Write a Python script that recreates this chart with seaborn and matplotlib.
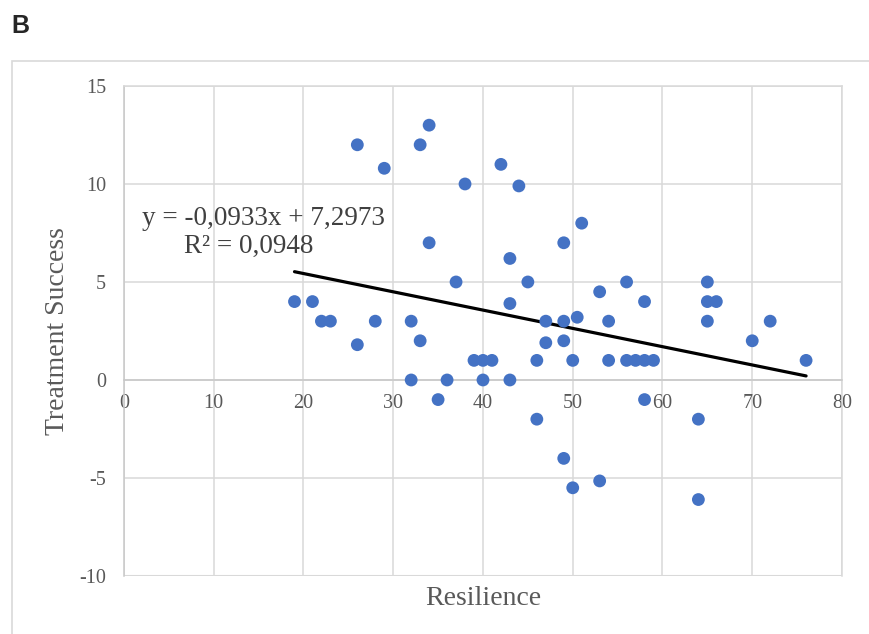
import pandas as pd
import numpy as np
import matplotlib.pyplot as plt
import matplotlib.patches as patches
import seaborn as sns

# --- data ---
resilience = [19, 21, 22, 23, 26, 26, 28, 29, 32, 32,
              33, 33, 34, 34, 35, 36, 37, 38, 39, 40,
              40, 41, 42, 43, 43, 43, 44, 45, 46, 46,
              47, 47, 49, 49, 49, 49, 50, 50, 50.5, 51,
              53, 53, 54, 54, 56, 56, 57, 58, 58, 58,
              59, 64, 64, 65, 65, 65, 66, 70, 72, 76]
treatment_success = [4, 4, 3, 3, 12, 1.8, 3, 10.8, 3, 0,
                     12, 2, 13, 7, -1, 0, 5, 10, 1, 1,
                     0, 1, 11, 6.2, 3.9, 0, 9.9, 5, 1, -2,
                     3, 1.9, 7, 3, 2, -4, 1, -5.5, 3.2, 8,
                     4.5, -5.15, 3, 1, 5, 1, 1, 4, 1, -1,
                     1, -2, -6.1, 5, 4, 3, 4, 2, 3, 1]
slope = -0.0933
intercept = 7.2973
r_squared = 0.0948
x_ticks = [0, 10, 20, 30, 40, 50, 60, 70, 80]
y_ticks = [-10, -5, 0, 5, 10, 15]

df = pd.DataFrame({'Resilience': resilience, 'Treatment Success': treatment_success})
x_fit = np.array([min(resilience), max(resilience)])
trend = pd.DataFrame({'x': x_fit, 'y': slope * x_fit + intercept})

sns.set_style('white')
plt.rcParams['font.family'] = ['Liberation Serif', 'DejaVu Serif']

fig = plt.figure(figsize=(8.7, 6.34), dpi=100)
ax = fig.add_axes([0.1425, 0.0915, 0.8253, 0.7729])

grid_col = '#d9d9d9'
text_col = '#595959'

sns.lineplot(data=trend, x='x', y='y', color='black', linewidth=2.3, ax=ax, zorder=3)
sns.scatterplot(data=df, x='Resilience', y='Treatment Success', color='#4472C4',
                s=85, edgecolor='none', ax=ax, zorder=4)

ax.set_xlim(0, 80)
ax.set_ylim(-10, 15)
ax.set_xticks(x_ticks)
ax.set_yticks(y_ticks)
ax.set_xticklabels([str(t) for t in x_ticks])
ax.set_yticklabels([str(t) for t in y_ticks])
ax.grid(True, color=grid_col, linewidth=1.1)
ax.set_axisbelow(True)

for side in ['top', 'right']:
    ax.spines[side].set_color(grid_col)
    ax.spines[side].set_linewidth(1.1)
ax.spines['left'].set_color('#c8c8c8')
ax.spines['left'].set_linewidth(1.1)
ax.spines['bottom'].set_position(('data', 0))
ax.spines['bottom'].set_color('#c8c8c8')
ax.spines['bottom'].set_linewidth(1.1)
# bottom border of plot area
ax.axhline(-10, color=grid_col, linewidth=1.5, zorder=0)

ax.tick_params(axis='both', length=0, labelsize=14.5, labelcolor=text_col)
ax.tick_params(axis='x', pad=10)
ax.tick_params(axis='y', pad=13)

ax.set_xlabel('Resilience', fontsize=20, color=text_col)
ax.set_ylabel('Treatment Success', fontsize=20, color=text_col)
ax.xaxis.set_label_coords(0.5, -0.045)
ax.xaxis.label.set_va('center')
ax.yaxis.set_label_coords(-0.092, 0.5)
ax.yaxis.label.set_va('center')

# trendline equation
ax.text(15.5, 8.22, 'y = -0,0933x + 7,2973', fontsize=19.5, color='#404040',
        ha='center', va='center')
ax.text(13.9, 6.84, 'R² = 0,0948', fontsize=19.5, color='#404040',
        ha='center', va='center')

# chart frame and panel letter
fig.patches.append(patches.Rectangle((0.0138, -0.01), 1.0, 0.9138, transform=fig.transFigure,
                                     fill=False, edgecolor=grid_col, linewidth=1.2))
fig.text(0.013, 0.959, 'B', fontsize=18, fontweight='bold', family=['Liberation Sans', 'DejaVu Sans'],
         ha='left', va='center')

plt.savefig('out.png', dpi=100)
